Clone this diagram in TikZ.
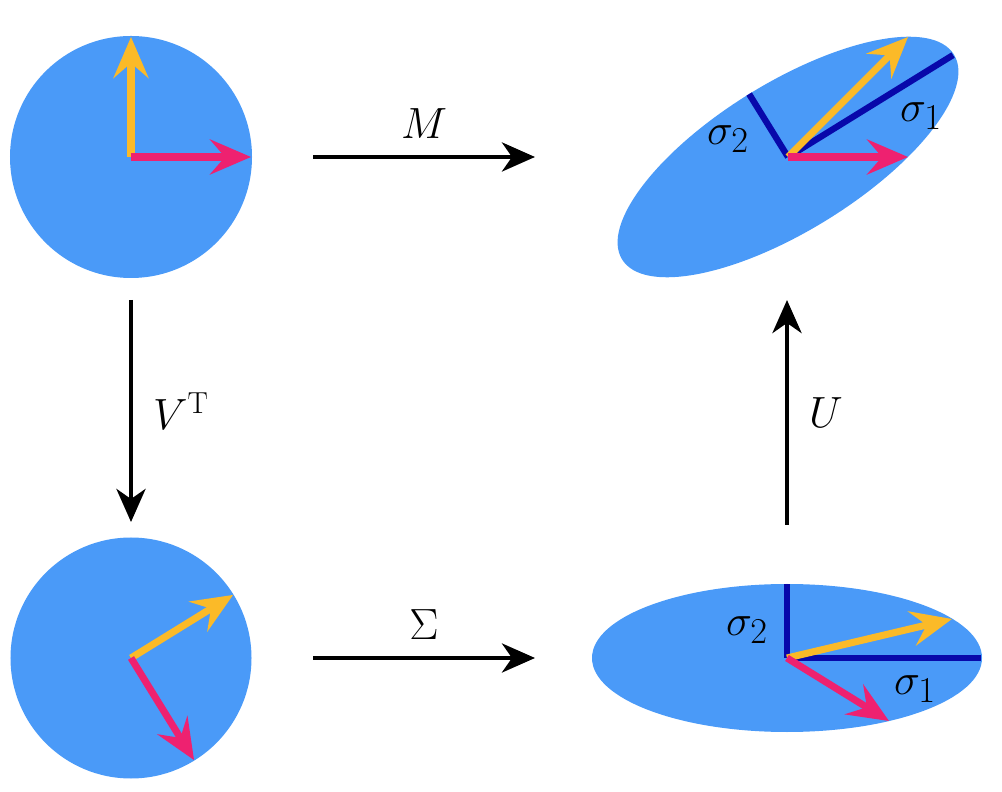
\documentclass[tikz,border=0pt]{standalone}
\usepackage{tikz}
\usetikzlibrary{arrows.meta,shapes.geometric,calc}
\definecolor{diskblue}{RGB}{74,154,248}
\definecolor{vecyellow}{RGB}{251,186,40}
\definecolor{vecpink}{RGB}{238,33,112}
\definecolor{axisblue}{RGB}{8,8,170}
\tikzset{
    blob/.style={fill=diskblue, draw=none, inner sep=0pt},
    vecy/.style={draw=vecyellow, line width=4pt, -{Stealth[length=0.82cm, width=0.7cm, inset=0.3cm]}},
    vecp/.style={draw=vecpink, line width=4pt, -{Stealth[length=0.82cm, width=0.7cm, inset=0.3cm]}},
    semi/.style={draw=axisblue, line width=3.6pt},
    sig/.style={font=\fontsize{30}{34}\selectfont},
    map/.style={draw=black, line width=2.6pt, -{Stealth[length=0.66cm, width=0.58cm, inset=0.2cm]}}
}

\begin{document}
\begin{tikzpicture}
  [
    every node/.style       = {font=\fontsize{26}{30}\selectfont},
  ]
  \useasboundingbox (0,0) rectangle (20.04,15.82);

  \node [blob, circle, minimum size=4.84cm] (c1) at (2.62,12.68) {};
  \node [blob, circle, minimum size=4.82cm] (c2) at (2.62,2.66) {};
  \node [blob, ellipse, minimum width=7.8cm, minimum height=2.96cm] (e3) at (15.74,2.66) {};
  \node [blob, ellipse, minimum width=7.8cm, minimum height=2.96cm, rotate=31.7] (e4) at (15.76,12.68) {};

  % unit vectors
  \draw [vecy] (c1.center) -- ++(0,2.4);
  \draw [vecp] (c1.center) -- ++(2.4,0);
  \draw [vecy] (c2.center) -- ++(31.7:2.4);
  \draw [vecp] (c2.center) -- ++(-58.3:2.4);

  % singular directions
  \draw [semi] (e3.center) -- ++(3.88,0);
  \draw [semi] (e3.center) -- ++(0,1.48);
  \draw [vecy] (e3.center) -- ++(3.3,0.78);
  \draw [vecp] (e3.center) -- ++(2.04,-1.26);
  \node [sig] (b1) at (18.3,2.04) {$\sigma_1$};
  \node [sig] (b2) at (14.94,3.22) {$\sigma_2$};

  \draw [semi] (e4.center) -- ++(31.7:3.88);
  \draw [semi] (e4.center) -- ++(121.7:1.48);
  \draw [vecy] (e4.center) -- ++(2.4,2.4);
  \draw [vecp] (e4.center) -- ++(2.4,0);
  \node [sig] (t1) at (18.42,13.5) {$\sigma_1$};
  \node [sig] (t2) at (14.56,13.04) {$\sigma_2$};

  % the four maps
  \coordinate (m0) at (6.26,12.68);
  \coordinate (m1) at (10.7,12.68);
  \coordinate (v0) at (2.62,9.82);
  \coordinate (v1) at (2.62,5.38);
  \coordinate (s0) at (6.26,2.66);
  \coordinate (sx) at (10.7,2.66);
  \coordinate (u0) at (15.74,5.32);
  \coordinate (u1) at (15.74,9.82);
  \draw [map] (m0) -- (m1) node [midway, above=6pt] {$M$};
  \draw [map] (v0) -- (v1) node [midway, right=8pt] {$V^{\mathrm{T}}$};
  \draw [map] (s0) -- (sx) node [midway, above=6pt] {$\Sigma$};
  \draw [map] (u0) -- (u1) node [midway, right=8pt] {$U$};
\end{tikzpicture}
\end{document}
